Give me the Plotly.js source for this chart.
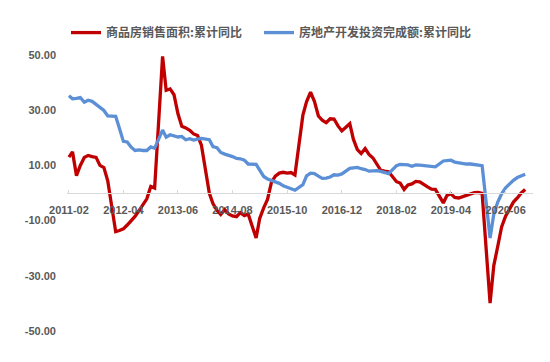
<!DOCTYPE html>
<html>
<head>
<meta charset="utf-8">
<script src="https://cdn.plot.ly/plotly-3.0.1.min.js"></script>
<style>html,body{margin:0;padding:0;background:#fff;}#chart{width:550px;height:362px;}</style>
</head>
<body>
<div id="chart"></div>
<script>
// Months reported (Jan is merged into Feb in the statistics)
const months = ["02","03","04","05","06","07","08","09","10","11","12"];
const years = [2011,2012,2013,2014,2015,2016,2017,2018,2019,2020];

// 商品房销售面积:累计同比 (%)
const salesArea2011 = [13.0, 14.9, 6.3, 10.0, 12.9, 13.6, 13.2, 12.9, 10.0, 9.2, 4.4];
const salesArea2012 = [-14.0, -13.6, -13.0, -11.6, -10.0, -8.5, -6.4, -4.1, -2.1, 2.4, 1.8];
const salesArea2013 = [49.5, 37.2, 37.7, 35.6, 28.7, 24.2, 23.6, 22.7, 21.4, 20.8, 17.3];
const salesArea2014 = [-0.1, -3.8, -6.3, -7.8, -6.0, -7.6, -8.3, -8.6, -7.1, -8.2, -7.6];
const salesArea2015 = [-16.3, -9.2, -5.4, -2.3, 3.9, 6.1, 7.2, 7.5, 7.2, 7.4, 6.5];
const salesArea2016 = [28.2, 33.1, 36.5, 33.2, 27.9, 26.4, 25.5, 26.9, 26.8, 24.3, 22.5];
const salesArea2017 = [25.1, 19.5, 15.7, 14.3, 16.1, 14.0, 12.7, 10.3, 8.2, 7.9, 7.7];
const salesArea2018 = [4.1, 3.6, 1.3, 2.9, 3.3, 4.2, 4.0, 2.9, 2.2, 1.4, 1.3];
const salesArea2019 = [-3.6, -0.9, -0.3, -1.6, -1.8, -1.3, -0.6, -0.1, 0.1, 0.2, -0.1];
const salesArea2020 = [-39.9, -26.3, -19.3, -12.3, -8.4, -5.8, -3.3, -1.8, 0.0, 1.3];

// 房地产开发投资完成额:累计同比 (%)
const invest2011 = [35.2, 34.1, 34.3, 34.6, 32.9, 33.6, 33.2, 32.0, 31.1, 29.9, 27.9];
const invest2012 = [27.8, 23.5, 18.7, 18.5, 16.6, 15.4, 15.6, 15.4, 15.4, 16.7, 16.2];
const invest2013 = [22.8, 20.2, 21.1, 20.6, 20.3, 20.5, 19.3, 19.7, 19.2, 19.5, 19.8];
const invest2014 = [19.3, 16.8, 16.4, 14.7, 14.1, 13.7, 13.2, 12.5, 12.4, 11.9, 10.5];
const invest2015 = [10.4, 8.5, 6.0, 5.1, 4.6, 4.3, 3.5, 2.6, 2.0, 1.3, 1.0];
const invest2016 = [3.0, 6.2, 7.2, 7.0, 6.1, 5.3, 5.4, 5.8, 6.6, 6.5, 6.9];
const invest2017 = [8.9, 9.1, 9.3, 8.8, 8.5, 7.9, 7.9, 8.1, 7.8, 7.5, 7.0];
const invest2018 = [9.9, 10.4, 10.3, 10.2, 9.7, 10.2, 10.1, 9.9, 9.7, 9.7, 9.5];
const invest2019 = [11.6, 11.8, 11.9, 11.2, 10.9, 10.6, 10.5, 10.5, 10.3, 10.2, 9.9];
const invest2020 = [-16.3, -7.7, -3.3, -0.3, 1.9, 3.4, 4.6, 5.6, 6.3, 6.8];

const tickLabels = ["2011-02","2012-04","2013-06","2014-08","2015-10","2016-12","2018-02","2019-04","2020-06"];
const yTicks = [50, 30, 10, -10, -30, -50];

const salesArea = [].concat(salesArea2011, salesArea2012, salesArea2013, salesArea2014, salesArea2015,
  salesArea2016, salesArea2017, salesArea2018, salesArea2019, salesArea2020);
const invest = [].concat(invest2011, invest2012, invest2013, invest2014, invest2015,
  invest2016, invest2017, invest2018, invest2019, invest2020);

const dates = [];
years.forEach(y => months.forEach(m => dates.push(y + "-" + m + "-01")));
const xs = dates.slice(0, salesArea.length);

const traces = [
  {x: xs, y: salesArea, type: "scatter", mode: "lines", name: "商品房销售面积:累计同比",
   line: {color: "#C00000", width: 3.3}, legend: "legend"},
  {x: xs, y: invest, type: "scatter", mode: "lines", name: "房地产开发投资完成额:累计同比",
   line: {color: "#5B8FD6", width: 3.3}, legend: "legend2"}
];

const legendFont = {family: "Noto Sans CJK SC", size: 12, color: "#595959", weight: "bold"};

const layout = {
  width: 550, height: 362,
  margin: {l: 67, r: 17, t: 55, b: 31},
  paper_bgcolor: "#ffffff", plot_bgcolor: "#ffffff",
  showlegend: true,
  legend: {orientation: "h", x: 66 / 550, xref: "container", xanchor: "left", y: 0.91, yref: "container", yanchor: "middle",
    font: legendFont, itemwidth: 30},
  legend2: {orientation: "h", x: 259 / 550, xref: "container", xanchor: "left", y: 0.91, yref: "container", yanchor: "middle",
    font: legendFont, itemwidth: 30},
  xaxis: {
    type: "date",
    range: ["2011-01-17", "2021-01-01"],
    tickvals: tickLabels.map(t => t + "-01"),
    ticktext: tickLabels,
    showgrid: false, zeroline: false,
    showline: true, linecolor: "#d9d9d9", linewidth: 1,
    anchor: "free", position: 0.5,
    ticks: "inside", ticklen: 3, tickcolor: "#d9d9d9",
    ticklabelstandoff: 7,
    tickfont: {family: "Liberation Sans", size: 11, color: "#595959", weight: "bold"}
  },
  yaxis: {
    range: [-50, 50],
    tickvals: yTicks,
    ticktext: yTicks.map(v => v.toFixed(2)),
    showgrid: false, zeroline: false, showline: false,
    ticks: "", ticklabelstandoff: 10,
    tickfont: {family: "Liberation Sans", size: 11, color: "#595959", weight: "bold"}
  }
};

Plotly.newPlot("chart", traces, layout, {displayModeBar: false, staticPlot: true});
</script>
</body>
</html>
